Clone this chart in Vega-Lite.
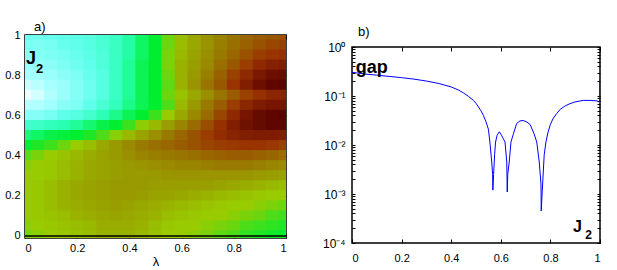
{
"$schema": "https://vega.github.io/schema/vega-lite/v6.json",
"padding": {"left": 3, "top": 20, "right": 3, "bottom": 2},
"spacing": 33,
"datasets": {
"heat": [
{"l":0,"j":1,"v":0.18},{"l":0.05,"j":1,"v":0.18},{"l":0.1,"j":1,"v":0.19},{"l":0.15,"j":1,"v":0.2},{"l":0.2,"j":1,"v":0.21},{"l":0.25,"j":1,"v":0.22},{"l":0.3,"j":1,"v":0.24},{"l":0.35,"j":1,"v":0.27},{"l":0.4,"j":1,"v":0.31},{"l":0.45,"j":1,"v":0.36},{"l":0.5,"j":1,"v":0.4},{"l":0.55,"j":1,"v":0.47},{"l":0.6,"j":1,"v":0.53},{"l":0.65,"j":1,"v":0.57},{"l":0.7,"j":1,"v":0.61},{"l":0.75,"j":1,"v":0.64},{"l":0.8,"j":1,"v":0.67},{"l":0.85,"j":1,"v":0.7},{"l":0.9,"j":1,"v":0.72},{"l":0.95,"j":1,"v":0.73},{"l":1,"j":1,"v":0.74},
{"l":0,"j":0.95,"v":0.16},{"l":0.05,"j":0.95,"v":0.16},{"l":0.1,"j":0.95,"v":0.17},{"l":0.15,"j":0.95,"v":0.19},{"l":0.2,"j":0.95,"v":0.2},{"l":0.25,"j":0.95,"v":0.22},{"l":0.3,"j":0.95,"v":0.24},{"l":0.35,"j":0.95,"v":0.27},{"l":0.4,"j":0.95,"v":0.31},{"l":0.45,"j":0.95,"v":0.36},{"l":0.5,"j":0.95,"v":0.4},{"l":0.55,"j":0.95,"v":0.47},{"l":0.6,"j":0.95,"v":0.53},{"l":0.65,"j":0.95,"v":0.57},{"l":0.7,"j":0.95,"v":0.61},{"l":0.75,"j":0.95,"v":0.65},{"l":0.8,"j":0.95,"v":0.68},{"l":0.85,"j":0.95,"v":0.71},{"l":0.9,"j":0.95,"v":0.74},{"l":0.95,"j":0.95,"v":0.76},{"l":1,"j":0.95,"v":0.77},
{"l":0,"j":0.9,"v":0.14},{"l":0.05,"j":0.9,"v":0.15},{"l":0.1,"j":0.9,"v":0.16},{"l":0.15,"j":0.9,"v":0.17},{"l":0.2,"j":0.9,"v":0.19},{"l":0.25,"j":0.9,"v":0.21},{"l":0.3,"j":0.9,"v":0.23},{"l":0.35,"j":0.9,"v":0.27},{"l":0.4,"j":0.9,"v":0.31},{"l":0.45,"j":0.9,"v":0.36},{"l":0.5,"j":0.9,"v":0.4},{"l":0.55,"j":0.9,"v":0.48},{"l":0.6,"j":0.9,"v":0.54},{"l":0.65,"j":0.9,"v":0.58},{"l":0.7,"j":0.9,"v":0.62},{"l":0.75,"j":0.9,"v":0.66},{"l":0.8,"j":0.9,"v":0.7},{"l":0.85,"j":0.9,"v":0.74},{"l":0.9,"j":0.9,"v":0.78},{"l":0.95,"j":0.9,"v":0.8},{"l":1,"j":0.9,"v":0.81},
{"l":0,"j":0.85,"v":0.12},{"l":0.05,"j":0.85,"v":0.13},{"l":0.1,"j":0.85,"v":0.14},{"l":0.15,"j":0.85,"v":0.16},{"l":0.2,"j":0.85,"v":0.18},{"l":0.25,"j":0.85,"v":0.2},{"l":0.3,"j":0.85,"v":0.23},{"l":0.35,"j":0.85,"v":0.27},{"l":0.4,"j":0.85,"v":0.32},{"l":0.45,"j":0.85,"v":0.37},{"l":0.5,"j":0.85,"v":0.4},{"l":0.55,"j":0.85,"v":0.48},{"l":0.6,"j":0.85,"v":0.55},{"l":0.65,"j":0.85,"v":0.59},{"l":0.7,"j":0.85,"v":0.63},{"l":0.75,"j":0.85,"v":0.68},{"l":0.8,"j":0.85,"v":0.73},{"l":0.85,"j":0.85,"v":0.78},{"l":0.9,"j":0.85,"v":0.83},{"l":0.95,"j":0.85,"v":0.86},{"l":1,"j":0.85,"v":0.87},
{"l":0,"j":0.8,"v":0.1},{"l":0.05,"j":0.8,"v":0.11},{"l":0.1,"j":0.8,"v":0.12},{"l":0.15,"j":0.8,"v":0.14},{"l":0.2,"j":0.8,"v":0.16},{"l":0.25,"j":0.8,"v":0.19},{"l":0.3,"j":0.8,"v":0.22},{"l":0.35,"j":0.8,"v":0.27},{"l":0.4,"j":0.8,"v":0.32},{"l":0.45,"j":0.8,"v":0.37},{"l":0.5,"j":0.8,"v":0.4},{"l":0.55,"j":0.8,"v":0.47},{"l":0.6,"j":0.8,"v":0.55},{"l":0.65,"j":0.8,"v":0.6},{"l":0.7,"j":0.8,"v":0.65},{"l":0.75,"j":0.8,"v":0.71},{"l":0.8,"j":0.8,"v":0.77},{"l":0.85,"j":0.8,"v":0.83},{"l":0.9,"j":0.8,"v":0.89},{"l":0.95,"j":0.8,"v":0.93},{"l":1,"j":0.8,"v":0.94},
{"l":0,"j":0.75,"v":0.06},{"l":0.05,"j":0.75,"v":0.08},{"l":0.1,"j":0.75,"v":0.1},{"l":0.15,"j":0.75,"v":0.12},{"l":0.2,"j":0.75,"v":0.15},{"l":0.25,"j":0.75,"v":0.18},{"l":0.3,"j":0.75,"v":0.22},{"l":0.35,"j":0.75,"v":0.27},{"l":0.4,"j":0.75,"v":0.32},{"l":0.45,"j":0.75,"v":0.37},{"l":0.5,"j":0.75,"v":0.4},{"l":0.55,"j":0.75,"v":0.46},{"l":0.6,"j":0.75,"v":0.55},{"l":0.65,"j":0.75,"v":0.61},{"l":0.7,"j":0.75,"v":0.67},{"l":0.75,"j":0.75,"v":0.73},{"l":0.8,"j":0.75,"v":0.8},{"l":0.85,"j":0.75,"v":0.87},{"l":0.9,"j":0.75,"v":0.93},{"l":0.95,"j":0.75,"v":0.97},{"l":1,"j":0.75,"v":0.98},
{"l":0,"j":0.7,"v":0.02},{"l":0.05,"j":0.7,"v":0.05},{"l":0.1,"j":0.7,"v":0.09},{"l":0.15,"j":0.7,"v":0.12},{"l":0.2,"j":0.7,"v":0.15},{"l":0.25,"j":0.7,"v":0.18},{"l":0.3,"j":0.7,"v":0.22},{"l":0.35,"j":0.7,"v":0.27},{"l":0.4,"j":0.7,"v":0.32},{"l":0.45,"j":0.7,"v":0.37},{"l":0.5,"j":0.7,"v":0.4},{"l":0.55,"j":0.7,"v":0.47},{"l":0.6,"j":0.7,"v":0.52},{"l":0.65,"j":0.7,"v":0.57},{"l":0.7,"j":0.7,"v":0.62},{"l":0.75,"j":0.7,"v":0.67},{"l":0.8,"j":0.7,"v":0.72},{"l":0.85,"j":0.7,"v":0.77},{"l":0.9,"j":0.7,"v":0.81},{"l":0.95,"j":0.7,"v":0.84},{"l":1,"j":0.7,"v":0.85},
{"l":0,"j":0.65,"v":0.08},{"l":0.05,"j":0.65,"v":0.09},{"l":0.1,"j":0.65,"v":0.11},{"l":0.15,"j":0.65,"v":0.14},{"l":0.2,"j":0.65,"v":0.16},{"l":0.25,"j":0.65,"v":0.2},{"l":0.3,"j":0.65,"v":0.24},{"l":0.35,"j":0.65,"v":0.28},{"l":0.4,"j":0.65,"v":0.33},{"l":0.45,"j":0.65,"v":0.37},{"l":0.5,"j":0.65,"v":0.4},{"l":0.55,"j":0.65,"v":0.45},{"l":0.6,"j":0.65,"v":0.54},{"l":0.65,"j":0.65,"v":0.6},{"l":0.7,"j":0.65,"v":0.66},{"l":0.75,"j":0.65,"v":0.72},{"l":0.8,"j":0.65,"v":0.78},{"l":0.85,"j":0.65,"v":0.84},{"l":0.9,"j":0.65,"v":0.88},{"l":0.95,"j":0.65,"v":0.9},{"l":1,"j":0.65,"v":0.9},
{"l":0,"j":0.6,"v":0.14},{"l":0.05,"j":0.6,"v":0.15},{"l":0.1,"j":0.6,"v":0.17},{"l":0.15,"j":0.6,"v":0.2},{"l":0.2,"j":0.6,"v":0.22},{"l":0.25,"j":0.6,"v":0.25},{"l":0.3,"j":0.6,"v":0.29},{"l":0.35,"j":0.6,"v":0.33},{"l":0.4,"j":0.6,"v":0.37},{"l":0.45,"j":0.6,"v":0.4},{"l":0.5,"j":0.6,"v":0.44},{"l":0.55,"j":0.6,"v":0.5},{"l":0.6,"j":0.6,"v":0.57},{"l":0.65,"j":0.6,"v":0.63},{"l":0.7,"j":0.6,"v":0.69},{"l":0.75,"j":0.6,"v":0.76},{"l":0.8,"j":0.6,"v":0.83},{"l":0.85,"j":0.6,"v":0.9},{"l":0.9,"j":0.6,"v":0.95},{"l":0.95,"j":0.6,"v":0.97},{"l":1,"j":0.6,"v":0.98},
{"l":0,"j":0.55,"v":0.25},{"l":0.05,"j":0.55,"v":0.26},{"l":0.1,"j":0.55,"v":0.28},{"l":0.15,"j":0.55,"v":0.3},{"l":0.2,"j":0.55,"v":0.32},{"l":0.25,"j":0.55,"v":0.35},{"l":0.3,"j":0.55,"v":0.38},{"l":0.35,"j":0.55,"v":0.4},{"l":0.4,"j":0.55,"v":0.44},{"l":0.45,"j":0.55,"v":0.49},{"l":0.5,"j":0.55,"v":0.54},{"l":0.55,"j":0.55,"v":0.59},{"l":0.6,"j":0.55,"v":0.64},{"l":0.65,"j":0.55,"v":0.69},{"l":0.7,"j":0.55,"v":0.75},{"l":0.75,"j":0.55,"v":0.81},{"l":0.8,"j":0.55,"v":0.87},{"l":0.85,"j":0.55,"v":0.92},{"l":0.9,"j":0.55,"v":0.95},{"l":0.95,"j":0.55,"v":0.97},{"l":1,"j":0.55,"v":0.97},
{"l":0,"j":0.5,"v":0.34},{"l":0.05,"j":0.5,"v":0.36},{"l":0.1,"j":0.5,"v":0.38},{"l":0.15,"j":0.5,"v":0.39},{"l":0.2,"j":0.5,"v":0.4},{"l":0.25,"j":0.5,"v":0.42},{"l":0.3,"j":0.5,"v":0.45},{"l":0.35,"j":0.5,"v":0.49},{"l":0.4,"j":0.5,"v":0.54},{"l":0.45,"j":0.5,"v":0.58},{"l":0.5,"j":0.5,"v":0.62},{"l":0.55,"j":0.5,"v":0.66},{"l":0.6,"j":0.5,"v":0.7},{"l":0.65,"j":0.5,"v":0.74},{"l":0.7,"j":0.5,"v":0.78},{"l":0.75,"j":0.5,"v":0.82},{"l":0.8,"j":0.5,"v":0.85},{"l":0.85,"j":0.5,"v":0.87},{"l":0.9,"j":0.5,"v":0.88},{"l":0.95,"j":0.5,"v":0.88},{"l":1,"j":0.5,"v":0.87},
{"l":0,"j":0.45,"v":0.4},{"l":0.05,"j":0.45,"v":0.42},{"l":0.1,"j":0.45,"v":0.44},{"l":0.15,"j":0.45,"v":0.47},{"l":0.2,"j":0.45,"v":0.5},{"l":0.25,"j":0.45,"v":0.53},{"l":0.3,"j":0.45,"v":0.57},{"l":0.35,"j":0.45,"v":0.6},{"l":0.4,"j":0.45,"v":0.63},{"l":0.45,"j":0.45,"v":0.66},{"l":0.5,"j":0.45,"v":0.68},{"l":0.55,"j":0.45,"v":0.7},{"l":0.6,"j":0.45,"v":0.72},{"l":0.65,"j":0.45,"v":0.74},{"l":0.7,"j":0.45,"v":0.76},{"l":0.75,"j":0.45,"v":0.78},{"l":0.8,"j":0.45,"v":0.79},{"l":0.85,"j":0.45,"v":0.8},{"l":0.9,"j":0.45,"v":0.8},{"l":0.95,"j":0.45,"v":0.79},{"l":1,"j":0.45,"v":0.77},
{"l":0,"j":0.4,"v":0.46},{"l":0.05,"j":0.4,"v":0.48},{"l":0.1,"j":0.4,"v":0.5},{"l":0.15,"j":0.4,"v":0.52},{"l":0.2,"j":0.4,"v":0.54},{"l":0.25,"j":0.4,"v":0.56},{"l":0.3,"j":0.4,"v":0.58},{"l":0.35,"j":0.4,"v":0.6},{"l":0.4,"j":0.4,"v":0.62},{"l":0.45,"j":0.4,"v":0.64},{"l":0.5,"j":0.4,"v":0.65},{"l":0.55,"j":0.4,"v":0.66},{"l":0.6,"j":0.4,"v":0.67},{"l":0.65,"j":0.4,"v":0.68},{"l":0.7,"j":0.4,"v":0.7},{"l":0.75,"j":0.4,"v":0.71},{"l":0.8,"j":0.4,"v":0.72},{"l":0.85,"j":0.4,"v":0.72},{"l":0.9,"j":0.4,"v":0.71},{"l":0.95,"j":0.4,"v":0.7},{"l":1,"j":0.4,"v":0.68},
{"l":0,"j":0.35,"v":0.49},{"l":0.05,"j":0.35,"v":0.5},{"l":0.1,"j":0.35,"v":0.51},{"l":0.15,"j":0.35,"v":0.53},{"l":0.2,"j":0.35,"v":0.55},{"l":0.25,"j":0.35,"v":0.57},{"l":0.3,"j":0.35,"v":0.58},{"l":0.35,"j":0.35,"v":0.59},{"l":0.4,"j":0.35,"v":0.6},{"l":0.45,"j":0.35,"v":0.61},{"l":0.5,"j":0.35,"v":0.62},{"l":0.55,"j":0.35,"v":0.63},{"l":0.6,"j":0.35,"v":0.64},{"l":0.65,"j":0.35,"v":0.64},{"l":0.7,"j":0.35,"v":0.65},{"l":0.75,"j":0.35,"v":0.66},{"l":0.8,"j":0.35,"v":0.66},{"l":0.85,"j":0.35,"v":0.66},{"l":0.9,"j":0.35,"v":0.65},{"l":0.95,"j":0.35,"v":0.64},{"l":1,"j":0.35,"v":0.63},
{"l":0,"j":0.3,"v":0.5},{"l":0.05,"j":0.3,"v":0.5},{"l":0.1,"j":0.3,"v":0.51},{"l":0.15,"j":0.3,"v":0.53},{"l":0.2,"j":0.3,"v":0.55},{"l":0.25,"j":0.3,"v":0.57},{"l":0.3,"j":0.3,"v":0.58},{"l":0.35,"j":0.3,"v":0.59},{"l":0.4,"j":0.3,"v":0.6},{"l":0.45,"j":0.3,"v":0.6},{"l":0.5,"j":0.3,"v":0.6},{"l":0.55,"j":0.3,"v":0.61},{"l":0.6,"j":0.3,"v":0.61},{"l":0.65,"j":0.3,"v":0.61},{"l":0.7,"j":0.3,"v":0.61},{"l":0.75,"j":0.3,"v":0.61},{"l":0.8,"j":0.3,"v":0.61},{"l":0.85,"j":0.3,"v":0.61},{"l":0.9,"j":0.3,"v":0.6},{"l":0.95,"j":0.3,"v":0.59},{"l":1,"j":0.3,"v":0.58},
{"l":0,"j":0.25,"v":0.5},{"l":0.05,"j":0.25,"v":0.51},{"l":0.1,"j":0.25,"v":0.53},{"l":0.15,"j":0.25,"v":0.55},{"l":0.2,"j":0.25,"v":0.57},{"l":0.25,"j":0.25,"v":0.58},{"l":0.3,"j":0.25,"v":0.59},{"l":0.35,"j":0.25,"v":0.6},{"l":0.4,"j":0.25,"v":0.6},{"l":0.45,"j":0.25,"v":0.6},{"l":0.5,"j":0.25,"v":0.59},{"l":0.55,"j":0.25,"v":0.59},{"l":0.6,"j":0.25,"v":0.59},{"l":0.65,"j":0.25,"v":0.59},{"l":0.7,"j":0.25,"v":0.59},{"l":0.75,"j":0.25,"v":0.58},{"l":0.8,"j":0.25,"v":0.57},{"l":0.85,"j":0.25,"v":0.56},{"l":0.9,"j":0.25,"v":0.55},{"l":0.95,"j":0.25,"v":0.54},{"l":1,"j":0.25,"v":0.53},
{"l":0,"j":0.2,"v":0.5},{"l":0.05,"j":0.2,"v":0.51},{"l":0.1,"j":0.2,"v":0.53},{"l":0.15,"j":0.2,"v":0.55},{"l":0.2,"j":0.2,"v":0.57},{"l":0.25,"j":0.2,"v":0.58},{"l":0.3,"j":0.2,"v":0.59},{"l":0.35,"j":0.2,"v":0.6},{"l":0.4,"j":0.2,"v":0.6},{"l":0.45,"j":0.2,"v":0.59},{"l":0.5,"j":0.2,"v":0.58},{"l":0.55,"j":0.2,"v":0.58},{"l":0.6,"j":0.2,"v":0.57},{"l":0.65,"j":0.2,"v":0.56},{"l":0.7,"j":0.2,"v":0.55},{"l":0.75,"j":0.2,"v":0.54},{"l":0.8,"j":0.2,"v":0.53},{"l":0.85,"j":0.2,"v":0.52},{"l":0.9,"j":0.2,"v":0.51},{"l":0.95,"j":0.2,"v":0.5},{"l":1,"j":0.2,"v":0.5},
{"l":0,"j":0.15,"v":0.5},{"l":0.05,"j":0.15,"v":0.51},{"l":0.1,"j":0.15,"v":0.53},{"l":0.15,"j":0.15,"v":0.55},{"l":0.2,"j":0.15,"v":0.56},{"l":0.25,"j":0.15,"v":0.57},{"l":0.3,"j":0.15,"v":0.58},{"l":0.35,"j":0.15,"v":0.59},{"l":0.4,"j":0.15,"v":0.58},{"l":0.45,"j":0.15,"v":0.57},{"l":0.5,"j":0.15,"v":0.56},{"l":0.55,"j":0.15,"v":0.55},{"l":0.6,"j":0.15,"v":0.54},{"l":0.65,"j":0.15,"v":0.53},{"l":0.7,"j":0.15,"v":0.52},{"l":0.75,"j":0.15,"v":0.51},{"l":0.8,"j":0.15,"v":0.5},{"l":0.85,"j":0.15,"v":0.5},{"l":0.9,"j":0.15,"v":0.49},{"l":0.95,"j":0.15,"v":0.48},{"l":1,"j":0.15,"v":0.47},
{"l":0,"j":0.1,"v":0.5},{"l":0.05,"j":0.1,"v":0.51},{"l":0.1,"j":0.1,"v":0.52},{"l":0.15,"j":0.1,"v":0.53},{"l":0.2,"j":0.1,"v":0.55},{"l":0.25,"j":0.1,"v":0.56},{"l":0.3,"j":0.1,"v":0.57},{"l":0.35,"j":0.1,"v":0.58},{"l":0.4,"j":0.1,"v":0.57},{"l":0.45,"j":0.1,"v":0.56},{"l":0.5,"j":0.1,"v":0.55},{"l":0.55,"j":0.1,"v":0.53},{"l":0.6,"j":0.1,"v":0.52},{"l":0.65,"j":0.1,"v":0.51},{"l":0.7,"j":0.1,"v":0.5},{"l":0.75,"j":0.1,"v":0.5},{"l":0.8,"j":0.1,"v":0.49},{"l":0.85,"j":0.1,"v":0.48},{"l":0.9,"j":0.1,"v":0.47},{"l":0.95,"j":0.1,"v":0.45},{"l":1,"j":0.1,"v":0.44},
{"l":0,"j":0.05,"v":0.49},{"l":0.05,"j":0.05,"v":0.5},{"l":0.1,"j":0.05,"v":0.51},{"l":0.15,"j":0.05,"v":0.52},{"l":0.2,"j":0.05,"v":0.53},{"l":0.25,"j":0.05,"v":0.54},{"l":0.3,"j":0.05,"v":0.56},{"l":0.35,"j":0.05,"v":0.56},{"l":0.4,"j":0.05,"v":0.56},{"l":0.45,"j":0.05,"v":0.55},{"l":0.5,"j":0.05,"v":0.53},{"l":0.55,"j":0.05,"v":0.51},{"l":0.6,"j":0.05,"v":0.5},{"l":0.65,"j":0.05,"v":0.5},{"l":0.7,"j":0.05,"v":0.49},{"l":0.75,"j":0.05,"v":0.48},{"l":0.8,"j":0.05,"v":0.47},{"l":0.85,"j":0.05,"v":0.45},{"l":0.9,"j":0.05,"v":0.44},{"l":0.95,"j":0.05,"v":0.43},{"l":1,"j":0.05,"v":0.42},
{"l":0,"j":0,"v":0.48},{"l":0.05,"j":0,"v":0.49},{"l":0.1,"j":0,"v":0.5},{"l":0.15,"j":0,"v":0.51},{"l":0.2,"j":0,"v":0.52},{"l":0.25,"j":0,"v":0.53},{"l":0.3,"j":0,"v":0.55},{"l":0.35,"j":0,"v":0.55},{"l":0.4,"j":0,"v":0.55},{"l":0.45,"j":0,"v":0.54},{"l":0.5,"j":0,"v":0.52},{"l":0.55,"j":0,"v":0.5},{"l":0.6,"j":0,"v":0.5},{"l":0.65,"j":0,"v":0.49},{"l":0.7,"j":0,"v":0.48},{"l":0.75,"j":0,"v":0.46},{"l":0.8,"j":0,"v":0.45},{"l":0.85,"j":0,"v":0.43},{"l":0.9,"j":0,"v":0.42},{"l":0.95,"j":0,"v":0.41},{"l":1,"j":0,"v":0.4}
],
"gap": [
{"l":0,"g":0.305},{"l":0.02,"g":0.295},{"l":0.05,"g":0.282},{"l":0.1,"g":0.266},{"l":0.15,"g":0.251},{"l":0.2,"g":0.237},{"l":0.25,"g":0.221},{"l":0.3,"g":0.202},{"l":0.35,"g":0.18},{"l":0.4,"g":0.153},{"l":0.43,"g":0.132},{"l":0.45,"g":0.115},{"l":0.47,"g":0.098},{"l":0.49,"g":0.081},{"l":0.5,"g":0.071},{"l":0.52,"g":0.05},{"l":0.53,"g":0.04},{"l":0.54,"g":0.03},{"l":0.55,"g":0.021},{"l":0.556,"g":0.0115},{"l":0.5635,"g":0.0045},{"l":0.567,"g":0.0025},{"l":0.568,"g":0.0012},{"l":0.571,"g":0.0025},{"l":0.575,"g":0.0063},{"l":0.579,"g":0.0115},{"l":0.585,"g":0.0158},{"l":0.594,"g":0.0186},{"l":0.603,"g":0.0158},{"l":0.61,"g":0.0135},{"l":0.617,"g":0.0115},{"l":0.624,"g":0.0045},{"l":0.626,"g":0.0011},{"l":0.628,"g":0.0025},{"l":0.634,"g":0.0045},{"l":0.641,"g":0.0115},{"l":0.651,"g":0.017},{"l":0.664,"g":0.0275},{"l":0.677,"g":0.031},{"l":0.69,"g":0.0316},{"l":0.705,"g":0.0295},{"l":0.718,"g":0.0263},{"l":0.734,"g":0.017},{"l":0.745,"g":0.0115},{"l":0.755,"g":0.0045},{"l":0.762,"g":0.0016},{"l":0.763,"g":0.00045},{"l":0.767,"g":0.0011},{"l":0.775,"g":0.0063},{"l":0.782,"g":0.0115},{"l":0.79,"g":0.0178},{"l":0.8,"g":0.0263},{"l":0.81,"g":0.034},{"l":0.825,"g":0.0437},{"l":0.84,"g":0.0537},{"l":0.86,"g":0.063},{"l":0.879,"g":0.0697},{"l":0.9,"g":0.0759},{"l":0.933,"g":0.0813},{"l":0.96,"g":0.0813},{"l":0.989,"g":0.0794},{"l":0.995,"g":0.076},{"l":1,"g":0.079},{"l":1,"g":0.215}
]
},
"hconcat": [
{"vconcat": [
{
"width": 261, "height": 203,
"title": {"text": "a)", "anchor": "start", "frame": "group", "dx": 9, "fontSize": 13, "fontWeight": "normal", "font": "Liberation Sans", "offset": -5},
"layer": [
{"data": {"name": "heat"}, "mark": {"type": "rect", "width": 14, "height": 11, "clip": true},
"encoding": {
"x": {"field": "l", "type": "quantitative", "scale": {"domain": [0, 1], "nice": false, "zero": false},
 "axis": {"orient": "bottom", "values": [0, 0.2, 0.4, 0.6, 0.8, 1], "format": "~g", "title": "λ", "titleFontSize": 13, "titleFontWeight": "normal", "titlePadding": 2, "tickSize": -4, "labelPadding": 8, "domain": false}},
"y": {"field": "j", "type": "quantitative", "scale": {"domain": [-0.01, 1], "nice": false, "zero": false},
 "axis": {"orient": "left", "values": [0, 0.2, 0.4, 0.6, 0.8, 1], "format": "~g", "title": null, "tickSize": -4, "labelPadding": 9, "domain": false}},
"color": {"field": "v", "type": "quantitative", "legend": null,
 "scale": {"type": "linear", "interpolate": "rgb", "domain": [0, 0.1, 0.2, 0.3, 0.4, 0.5, 0.6, 0.7, 0.8, 0.9, 1],
 "range": ["#ffffff", "#a8ffff", "#60ffec", "#28ffb0", "#00ee30", "#99cc00", "#999900", "#996600", "#993300", "#771500", "#550000"]}}
}},
{"data": {"values": [{}]}, "mark": {"type": "rule", "color": "black", "strokeWidth": 1.5}, "encoding": {"y": {"datum": 0, "axis": null}}},
{"data": {"values": [{}]}, "mark": {"type": "text", "text": "J", "fontSize": 18, "fontWeight": "bold", "font": "Liberation Sans", "align": "left", "baseline": "alphabetic", "dx": 1, "color": "black"},
"encoding": {
"x": {"datum": 0, "axis": {"orient": "top", "values": [0, 0.2, 0.4, 0.6, 0.8, 1], "labels": false, "title": null, "tickSize": -4, "domain": false}},
"y": {"datum": 0.856, "axis": {"orient": "right", "values": [0, 0.2, 0.4, 0.6, 0.8, 1], "labels": false, "title": null, "tickSize": -4, "domain": false}}
}},
{"data": {"values": [{}]}, "mark": {"type": "text", "text": "2", "fontSize": 13, "fontWeight": "bold", "font": "Liberation Sans", "align": "left", "baseline": "alphabetic", "dx": 11, "color": "black"},
"encoding": {"x": {"datum": 0, "axis": null}, "y": {"datum": 0.811, "axis": null}}}
],
"resolve": {"axis": {"x": "independent", "y": "independent"}}
}
]},
{"spacing": 0, "vconcat": [
{"width": 248, "height": 1, "data": {"values": []}, "mark": {"type": "point", "opacity": 0}, "encoding": {}, "view": {"stroke": "transparent", "strokeWidth": 1, "fill": null},
 "title": {"text": "b)", "anchor": "start", "frame": "group", "dx": 6, "fontSize": 13, "fontWeight": "normal", "font": "Liberation Sans", "offset": -4}},
{
"width": 248, "height": 196,
"layer": [
{"data": {"name": "gap"}, "mark": {"type": "line", "color": "#0000ff", "strokeWidth": 1, "clip": true},
"encoding": {
"x": {"field": "l", "type": "quantitative", "scale": {"domain": [0, 1], "nice": false, "zero": false},
 "axis": {"orient": "bottom", "values": [0, 0.2, 0.4, 0.6, 0.8, 1], "format": "~g", "title": null, "tickSize": -4, "labelPadding": 13, "domain": false}},
"y": {"field": "g", "type": "quantitative", "scale": {"type": "log", "domain": [0.0001, 1], "nice": false},
 "axis": {"orient": "left", "values": [0.0001,0.0002,0.0003,0.0004,0.0005,0.0006,0.0007,0.0008,0.0009,0.001,0.002,0.003,0.004,0.005,0.006,0.007,0.008,0.009,0.01,0.02,0.03,0.04,0.05,0.06,0.07,0.08,0.09,0.1,0.2,0.3,0.4,0.5,0.6,0.7,0.8,0.9,1],
 "labelExpr": "datum.value == 1 ? '10⁰' : datum.value == 0.1 ? '10⁻¹' : datum.value == 0.01 ? '10⁻²' : datum.value == 0.001 ? '10⁻³' : datum.value == 0.0001 ? '10⁻⁴' : ''",
 "title": null, "tickSize": -3, "labelPadding": 10, "domain": false, "labelFontSize": 12, "labelOverlap": false}}
}},
{"data": {"values": [{}]}, "mark": {"type": "text", "text": "gap", "fontSize": 18, "fontWeight": "bold", "font": "Liberation Sans", "align": "left", "baseline": "alphabetic", "color": "black"},
"encoding": {
"x": {"datum": 0.015, "axis": {"orient": "top", "values": [0, 0.2, 0.4, 0.6, 0.8, 1], "labels": false, "title": null, "tickSize": -4, "domain": false}},
"y": {"datum": 0.295, "axis": {"orient": "right", "values": [0.0001,0.0002,0.0003,0.0004,0.0005,0.0006,0.0007,0.0008,0.0009,0.001,0.002,0.003,0.004,0.005,0.006,0.007,0.008,0.009,0.01,0.02,0.03,0.04,0.05,0.06,0.07,0.08,0.09,0.1,0.2,0.3,0.4,0.5,0.6,0.7,0.8,0.9,1], "labels": false, "title": null, "tickSize": -3, "domain": false}}
}},
{"data": {"values": [{}]}, "mark": {"type": "text", "text": "J", "fontSize": 16, "fontWeight": "bold", "font": "Liberation Sans", "align": "right", "baseline": "alphabetic", "dx": -18, "color": "black"},
"encoding": {"x": {"datum": 1, "axis": null}, "y": {"datum": 0.000167, "axis": null}}},
{"data": {"values": [{}]}, "mark": {"type": "text", "text": "2", "fontSize": 12, "fontWeight": "bold", "font": "Liberation Sans", "align": "right", "baseline": "alphabetic", "dx": -8, "color": "black"},
"encoding": {"x": {"datum": 1, "axis": null}, "y": {"datum": 0.00012, "axis": null}}}
],
"resolve": {"axis": {"x": "independent", "y": "independent"}}
}
]}
],
"config": {
"font": "Liberation Sans",
"axis": {"labelFont": "Liberation Sans", "labelFontSize": 11, "labelColor": "black", "tickColor": "black", "tickWidth": 1, "grid": false, "titleFont": "Liberation Sans", "titleColor": "black", "zindex": 1},
"view": {"stroke": "black", "strokeWidth": 1.5},
"title": {"color": "black"}
}
}
